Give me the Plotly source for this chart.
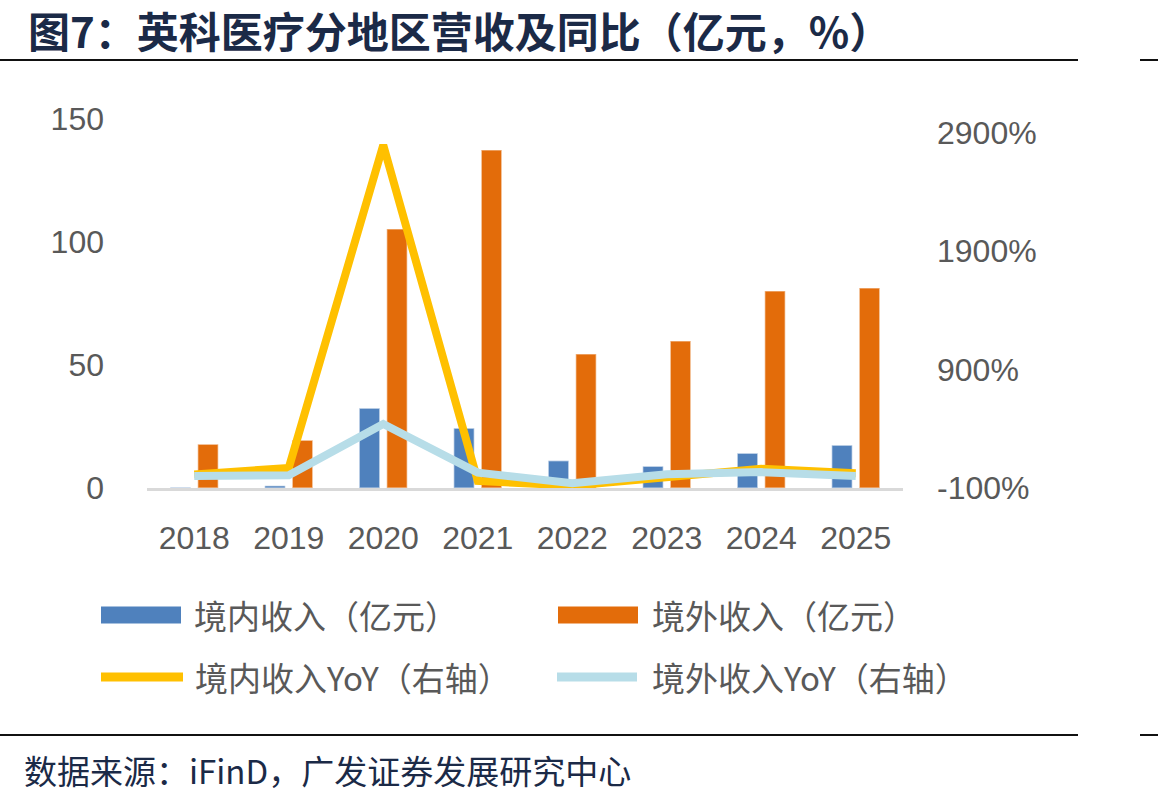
import plotly.graph_objects as go

years = ["2018", "2019", "2020", "2021", "2022", "2023", "2024", "2025"]
domestic_rev = [0.2, 0.9, 32.4, 24.3, 11.1, 8.8, 14.1, 17.4]
overseas_rev = [17.8, 19.4, 105.3, 137.4, 54.5, 59.8, 80.1, 81.3]
domestic_yoy = [15, 69, 2794, -40, -80, -15, 62, 24]
overseas_yoy = [2, 8, 440, 30, -60, 15, 34, 2]

names = ["境内收入（亿元）", "境外收入（亿元）", "境内收入YoY（右轴）", "境外收入YoY（右轴）"]
colors = ["#4F81BD", "#E36C0A", "#FFC000", "#B7DDE8"]

left_ticks = [0, 50, 100, 150]
right_ticks = [-100, 900, 1900, 2900]

W, H = 1158, 802
L, R, T, B = 147, 903, 119, 488
pw, ph = R - L, B - T


def px(x):
    return (x - L) / pw


def py(y):
    return (B - y) / ph


NUM = "Liberation Sans, Arial, Noto Sans CJK SC"
CJK = "Noto Sans CJK SC, Liberation Sans"
GRAY = "#595959"
NAVY = "#1B2A47"

fig = go.Figure()
fig.add_trace(go.Bar(x=years, y=domestic_rev, name=names[0], marker=dict(color=colors[0], line=dict(color="rgba(255,255,255,0.45)", width=1.5)), yaxis="y"))
fig.add_trace(go.Bar(x=years, y=overseas_rev, name=names[1], marker=dict(color=colors[1], line=dict(color="rgba(255,255,255,0.45)", width=1.5)), yaxis="y"))
fig.add_trace(go.Scatter(x=years, y=domestic_yoy, name=names[2], mode="lines", line=dict(color=colors[2], width=8), yaxis="y2"))
fig.add_trace(go.Scatter(x=years, y=overseas_yoy, name=names[3], mode="lines", line=dict(color=colors[3], width=8), yaxis="y2"))

r2_top = (ph / 118.5) * 1000 - 100

shapes = []
annotations = []

# horizontal rules (top and bottom)
for yy in (60, 735):
    shapes.append(dict(type="line", xref="paper", yref="paper", x0=px(0), x1=px(1078), y0=py(yy), y1=py(yy), line=dict(color="#111111", width=2)))
    shapes.append(dict(type="line", xref="paper", yref="paper", x0=px(1140), x1=px(1158), y0=py(yy), y1=py(yy), line=dict(color="#111111", width=2)))

# manual legend
leg = [
    (101, 181, 615, "rect", 192),
    (558, 638, 615, "rect", 650),
    (101, 183, 677, "line", 193),
    (557, 637, 677, "line", 650),
]
for i, (x0, x1, yc, kind, tx) in enumerate(leg):
    if kind == "rect":
        shapes.append(dict(type="rect", xref="paper", yref="paper", x0=px(x0), x1=px(x1), y0=py(yc + 8.5), y1=py(yc - 8.5), fillcolor=colors[i], line=dict(width=0)))
    else:
        shapes.append(dict(type="line", xref="paper", yref="paper", x0=px(x0), x1=px(x1), y0=py(yc), y1=py(yc), line=dict(color=colors[i], width=9)))
    annotations.append(dict(xref="paper", yref="paper", x=px(tx), y=py(yc), xanchor="left", yanchor="middle", text=names[i], showarrow=False, font=dict(family=CJK, size=33, color=GRAY)))

annotations.append(dict(xref="paper", yref="paper", x=px(26), y=py(29), xanchor="left", yanchor="middle", text="<b>图7：英科医疗分地区营收及同比（亿元，%）</b>", showarrow=False, font=dict(family=CJK, size=42, color=NAVY)))
annotations.append(dict(xref="paper", yref="paper", x=px(22), y=py(770), xanchor="left", yanchor="middle", text="数据来源：iFinD，广发证券发展研究中心", showarrow=False, font=dict(family=CJK, size=33, color=NAVY)))

fig.update_layout(
    width=W, height=H,
    margin=dict(l=L, r=W - R, t=T, b=H - B, pad=0),
    paper_bgcolor="white", plot_bgcolor="white",
    barmode="group", bargap=0.418, bargroupgap=0.255,
    showlegend=False,
    xaxis=dict(type="category", showgrid=False, showline=True, linecolor="#D9D9D9", linewidth=3, ticks="",
               tickfont=dict(family=NUM, size=32, color=GRAY), ticklabelstandoff=20, fixedrange=True),
    yaxis=dict(range=[0, 150], tickvals=left_ticks, showgrid=False, zeroline=False, showline=False, ticks="",
               tickfont=dict(family=NUM, size=32, color=GRAY), ticklabelstandoff=42),
    yaxis2=dict(range=[-100, r2_top], tickvals=right_ticks, ticktext=[f"{v}%" for v in right_ticks], overlaying="y", side="right",
                showgrid=False, zeroline=False, showline=False, ticks="",
                tickfont=dict(family=NUM, size=32, color=GRAY), ticklabelstandoff=33),
    shapes=shapes,
    annotations=annotations,
)

fig.write_html("out.html")
